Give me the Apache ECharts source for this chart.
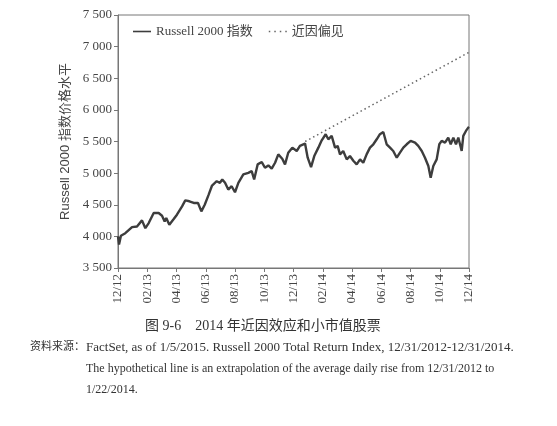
<!DOCTYPE html>
<html>
<head>
<meta charset="utf-8">
<script src="https://cdn.jsdelivr.net/npm/echarts@6/dist/echarts.min.js"></script>
<style>
  html, body { margin: 0; padding: 0; background: #fff; }
  #chart { width: 557px; height: 426px; }
</style>
</head>
<body>
<div id="chart"></div>
<script>
// months since 12/31/2012
const months = [0, 0.07, 0.2, 0.5, 0.96, 1.3, 1.64, 1.87, 2.1, 2.44, 2.78, 3.01, 3.19, 3.3, 3.51, 3.64, 3.81,
  4.03, 4.38, 4.6, 4.88, 5.18, 5.29, 5.47, 5.7, 5.93, 6.2, 6.43, 6.75, 6.97, 7.13, 7.32, 7.54, 7.77,
  8.0, 8.23, 8.57, 8.91, 9.14, 9.31, 9.55, 9.83, 10.05, 10.28, 10.51, 10.74, 10.96, 11.23, 11.42, 11.64,
  11.92, 12.22, 12.44, 12.56, 12.79, 12.97, 13.2, 13.42, 13.7, 13.93, 14.2, 14.38, 14.61, 14.84, 15.02,
  15.18, 15.4, 15.64, 15.86, 16.09, 16.32, 16.55, 16.77, 17.0, 17.23, 17.46, 17.69, 17.91, 18.14, 18.37,
  18.6, 18.82, 19.06, 19.28, 19.51, 19.74, 20.01, 20.31, 20.53, 20.77, 20.99, 21.22, 21.38, 21.56, 21.79,
  21.97, 22.13, 22.36, 22.58, 22.75, 22.93, 23.11, 23.27, 23.5, 23.61, 23.79, 23.95, 24]
const russell = [4000, 3870, 4010, 4050, 4147, 4157, 4253, 4130, 4210, 4370, 4370, 4327, 4236, 4290, 4184, 4168, 4274,
  4343, 4475, 4570, 4555, 4528, 4555, 4528, 4395, 4500, 4660, 4804, 4872, 4847, 4900, 4847, 4740, 4793,
  4698, 4847, 4980, 5005, 5031, 4900, 5138, 5175, 5085, 5122, 5070, 5164, 5297, 5228, 5138, 5323,
  5403, 5350, 5430, 5403, 5467, 5244, 5095, 5270, 5403, 5519, 5615, 5535, 5588, 5403, 5430,
  5297, 5350, 5217, 5270, 5196, 5138, 5217, 5164, 5297, 5403, 5456, 5535, 5615, 5650, 5456,
  5403, 5350, 5244, 5323, 5403, 5456, 5509, 5483, 5430, 5350, 5244, 5112, 4927, 5112, 5217,
  5456, 5509, 5483, 5562, 5456, 5562, 5456, 5562, 5350, 5588, 5667, 5720, 5730]
// hypothetical extrapolation line endpoints
const biasMonths = [12.8, 24]
const biasValues = [5500, 6910]
const tickLabels = ['12/12', '02/13', '04/13', '06/13', '08/13', '10/13', '12/13',
  '02/14', '04/14', '06/14', '08/14', '10/14', '12/14']

const serif = '"Liberation Serif", "Noto Sans CJK SC", serif'
const myChart = echarts.init(document.getElementById('chart'))

const options = {
    animation: false,
    backgroundColor: '#fff',
    grid: {
        left: 118, right: 88, top: 15, bottom: 158,
        show: true, borderColor: '#777', borderWidth: 1
    },
    legend: {
        left: 128, top: 20,
        itemWidth: 18, itemHeight: 2, itemGap: 16,
        textStyle: { fontFamily: serif, fontSize: 13, color: '#444' },
        data: [
            { name: 'Russell 2000 指数', icon: 'path://M0,0 L18,0 L18,1.6 L0,1.6 Z' },
            { name: '近因偏见', icon: 'path://M0,0 L1.5,0 L1.5,1.5 L0,1.5 Z M5.5,0 L7,0 L7,1.5 L5.5,1.5 Z M11,0 L12.5,0 L12.5,1.5 L11,1.5 Z M16.5,0 L18,0 L18,1.5 L16.5,1.5 Z' }
        ]
    },
    xAxis: {
        type: 'value', min: 0, max: 24, interval: 2,
        axisLine: { lineStyle: { color: '#777' } },
        axisTick: { show: true, length: 4, lineStyle: { color: '#777' } },
        splitLine: { show: false },
        axisLabel: {
            rotate: 90, margin: 6,
            fontFamily: serif, fontSize: 13, color: '#444',
            formatter: v => tickLabels[Math.round(v / 2)]
        }
    },
    yAxis: {
        type: 'value', min: 3500, max: 7500, interval: 500,
        name: 'Russell 2000 指数价格水平',
        nameLocation: 'middle', nameGap: 46,
        nameTextStyle: { fontFamily: '"Liberation Sans", "Noto Sans CJK SC", sans-serif', fontSize: 13, color: '#444' },
        axisLine: { show: true, lineStyle: { color: '#777' } },
        axisTick: { show: true, length: 4, lineStyle: { color: '#777' } },
        splitLine: { show: false },
        axisLabel: {
            margin: 6, fontFamily: serif, fontSize: 13, color: '#444',
            formatter: v => String(v).replace(/\B(?=(\d{3})+(?!\d))/g, ' ')
        }
    },
    series: [
        {
            name: 'Russell 2000 指数',
            type: 'line',
            symbol: 'none',
            color: '#3d3d3d',
            lineStyle: { color: '#3d3d3d', width: 2.4 },
            data: months.map((m, i) => [m, russell[i]])
        },
        {
            name: '近因偏见',
            type: 'line',
            symbol: 'none',
            color: '#666',
            lineStyle: { color: '#666', width: 1.5, type: [1.5, 3] },
            data: biasMonths.map((m, i) => [m, biasValues[i]])
        }
    ],
    graphic: [
        {
            type: 'text', left: 145, top: 319,
            style: { text: '图 9-6    2014 年近因效应和小市值股票', font: '14px ' + serif, fill: '#333' }
        },
        {
            type: 'text', left: 30, top: 342,
            style: { text: '资料来源：', font: '11px ' + serif, fill: '#333' }
        },
        {
            type: 'text', left: 86, top: 341,
            style: { text: 'FactSet, as of 1/5/2015. Russell 2000 Total Return Index, 12/31/2012-12/31/2014.', font: '13px ' + serif, fill: '#333' }
        },
        {
            type: 'text', left: 86, top: 363,
            style: { text: 'The hypothetical line is an extrapolation of the average daily rise from 12/31/2012 to', font: '12px ' + serif, fill: '#333' }
        },
        {
            type: 'text', left: 86, top: 384,
            style: { text: '1/22/2014.', font: '12px ' + serif, fill: '#333' }
        }
    ]
}
myChart.setOption(options)
</script>
</body>
</html>
